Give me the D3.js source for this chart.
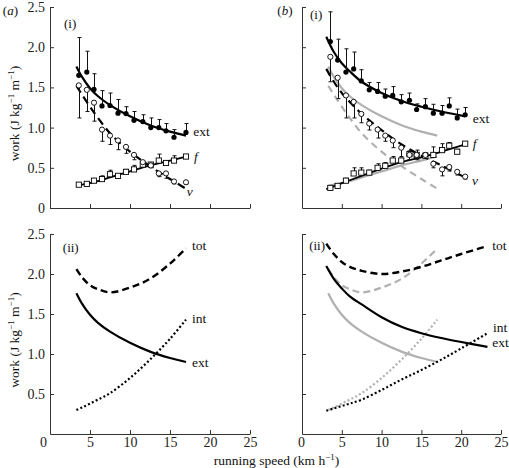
<!DOCTYPE html>
<html><head><meta charset="utf-8">
<script src="https://cdn.jsdelivr.net/npm/d3@7"></script>
<style>
html,body{margin:0;padding:0;background:#fff;}
svg, svg text{font-family:"Liberation Serif","Tinos","Times New Roman","DejaVu Serif",serif;}
</style></head><body>
<svg id="chart" width="509" height="468"></svg>
<script>
// ---------- tick labels ----------
const xTicks = [0, 5, 10, 15, 20, 25];
const yTicksTop = [0, 0.5, 1.0, 1.5, 2.0, 2.5];
const yTicksBot = [0.5, 1.0, 1.5, 2.0, 2.5];

// ---------- panel (a)(i): measured points ----------
const speedsA = [3.6, 4.6, 5.5, 6.5, 7.5, 8.5, 9.5, 10.5, 11.6, 12.6, 13.6, 14.5, 15.5, 17.0];
const extA    = [1.65, 1.69, 1.475, 1.27, 1.275, 1.18, 1.175, 1.09, 1.075, 1.0, 1.0, 0.96, 0.88, 0.94];
const extErrA = [0.47, 0.26, 0.195, 0.19, 0.155, 0.17, 0.085, 0.11, 0.085, 0.12, 0.10, 0.09, 0.095, 0.11];
const vA      = [1.525, 1.47, 1.31, 0.975, 0.90, 0.84, 0.76, 0.66, 0.57, 0.53, 0.43, 0.43, 0.33, 0.32];
const vErrA   = [0.405, 0.27, 0.23, 0.145, 0.11, 0.115, 0.08, 0.06, 0.05, 0.03, 0.04, 0.06, 0.03, 0.02];
const fA      = [0.29, 0.30, 0.34, 0.36, 0.42, 0.40, 0.45, 0.48, 0.54, 0.54, 0.59, 0.56, 0.59, 0.64];
const fErrA   = [0.02, 0.02, 0.02, 0.04, 0.05, 0.02, 0.03, 0.05, 0.03, 0.02, 0.08, 0.03, 0.06, 0.02];

// ---------- panel (a): fitted curves (read at these speeds) ----------
const fitSpeedsA = [3.3, 4, 5, 6, 7.5, 10, 12.5, 15, 17];
const extFitA = [1.76, 1.63, 1.49, 1.39, 1.28, 1.14, 1.03, 0.95, 0.90];
const vFitA   = [1.52, 1.41, 1.26, 1.12, 0.93, 0.70, 0.52, 0.36, 0.24];
const fFitA   = [0.275, 0.29, 0.31, 0.335, 0.38, 0.455, 0.53, 0.59, 0.64];
const totA    = [2.06, 1.96, 1.86, 1.81, 1.77, 1.83, 1.94, 2.13, 2.32];
const intA    = [0.30, 0.33, 0.38, 0.43, 0.51, 0.70, 0.93, 1.19, 1.43];

// ---------- panel (b)(i): measured points ----------
const speedsB = [3.56, 4.48, 5.52, 6.49, 7.45, 8.45, 9.5, 10.46, 11.4, 12.47, 13.5, 14.4, 15.5, 16.5, 17.6, 18.5, 19.5, 20.5];
const extB    = [2.07, 1.84, 1.69, 1.73, 1.58, 1.47, 1.45, 1.39, 1.40, 1.32, 1.34, 1.225, 1.26, 1.18, 1.18, 1.27, 1.12, 1.16];
const extErrB = [0.37, 0.26, 0.29, 0.21, 0.14, 0.09, 0.11, 0.09, 0.11, 0.09, 0.09, 0.07, 0.10, 0.11, 0.095, 0.10, 0.11, 0.09];
const vB      = [1.88, 1.62, 1.40, 1.32, 1.17, 1.05, 0.975, 0.90, 0.84, 0.75, 0.66, 0.66, 0.66, 0.55, 0.48, 0.51, 0.45, 0.39];
const vErrB   = [0.31, 0.26, 0.28, 0.20, 0.11, 0.08, 0.105, 0.07, 0.09, 0.11, 0.06, 0.06, 0.04, 0.05, 0.08, 0.05, 0.04, 0.03];
const fB      = [0.25, 0.275, 0.34, 0.43, 0.44, 0.44, 0.50, 0.525, 0.59, 0.59, 0.67, 0.66, 0.65, 0.66, 0.72, 0.775, 0.70, 0.80];
const fErrB   = [0.02, 0.02, 0.03, 0.07, 0.06, 0.03, 0.05, 0.04, 0.05, 0.03, 0.04, 0.06, 0.04, 0.10, 0.08, 0.04, 0.03, 0.02];

// ---------- panel (b)(i): fitted curves ----------
const fitSpeedsB = [3.05, 4, 5, 6, 7.5, 10, 12.5, 15, 17.5, 20.5];
const extFitB = [2.13, 1.94, 1.80, 1.70, 1.57, 1.43, 1.33, 1.26, 1.20, 1.14];
const vFitB   = [1.73, 1.57, 1.43, 1.32, 1.17, 0.97, 0.79, 0.65, 0.53, 0.38];
const fFitB   = [0.235, 0.27, 0.31, 0.345, 0.40, 0.49, 0.57, 0.63, 0.70, 0.79];

// ---------- panel (b)(ii) ----------
const speedsB2 = [3.05, 4, 5, 6, 7.5, 10, 12.5, 15, 17.5, 20, 23.3];
const totB  = [2.38, 2.25, 2.15, 2.09, 2.04, 2.00, 2.03, 2.09, 2.17, 2.25, 2.35];
const extB2 = [2.10, 1.94, 1.82, 1.72, 1.62, 1.46, 1.34, 1.26, 1.20, 1.15, 1.09];
const intB  = [0.29, 0.32, 0.35, 0.38, 0.43, 0.55, 0.68, 0.80, 0.93, 1.07, 1.26];

// ================= drawing =================
const FONT = "Liberation Serif, Tinos, Times New Roman, DejaVu Serif, serif";
const svg = d3.select("#chart").attr("font-family", FONT);
const GREY = "#b0b0b0";
const xA = d3.scaleLinear().domain([0, 25]).range([50, 250]);
const xB = d3.scaleLinear().domain([0, 25]).range([302, 501]);
const yTop = d3.scaleLinear().domain([0, 2.5]).range([208, 7]);
const yBot = d3.scaleLinear().domain([0, 2.5]).range([434, 234]);

const yfmt = d => d === 0 ? "0" : d3.format(".1f")(d);

function drawAxes(x, y, yTicks, showY, showX, zeroDx) {
  const gx = svg.append("g").attr("transform", `translate(0,${y(0)})`)
    .call(d3.axisBottom(x).tickValues(xTicks).tickSizeInner(-4).tickSizeOuter(0)
      .tickPadding(3).tickFormat(showX ? d => d : ""));
  const gy = svg.append("g").attr("transform", `translate(${x(0)},0)`)
    .call(d3.axisLeft(y).tickValues(yTicks).tickSizeInner(-4).tickSizeOuter(0)
      .tickPadding(5).tickFormat(showY ? yfmt : ""));
  [gx, gy].forEach(g => {
    g.attr("color", "#333").attr("font-family", FONT).attr("font-size", 14);
    g.selectAll("text").attr("font-family", FONT).attr("font-size", 14).attr("fill", "#222");
  });
  if (showX) gx.selectAll(".tick text").filter(d => d === 0).attr("dx", zeroDx);
}

function curve(x, y, sp, vals, stroke, width, dash) {
  const line = d3.line().x((d, i) => x(sp[i])).y(d => y(d)).curve(d3.curveCatmullRom.alpha(0.5));
  svg.append("path").attr("d", line(vals)).attr("fill", "none")
    .attr("stroke", stroke).attr("stroke-width", width)
    .attr("stroke-dasharray", dash || null);
}

function errBars(x, y, sp, vals, errs, dir) {
  const g = svg.append("g").attr("stroke", "#111").attr("stroke-width", 1);
  sp.forEach((s, i) => {
    const cx = Math.round(x(s)) + 0.5;
    const end = y(vals[i] + dir * errs[i]);
    g.append("line").attr("x1", cx).attr("x2", cx).attr("y1", y(vals[i])).attr("y2", end);
    g.append("line").attr("x1", cx - 2).attr("x2", cx + 2).attr("y1", end).attr("y2", end);
  });
}

function markers(x, y, sp, vals, type) {
  const g = svg.append("g");
  sp.forEach((s, i) => {
    if (type === "filled") {
      g.append("circle").attr("cx", x(s)).attr("cy", y(vals[i])).attr("r", 2.6).attr("fill", "#000");
    } else if (type === "open") {
      g.append("circle").attr("cx", x(s)).attr("cy", y(vals[i])).attr("r", 2.6)
        .attr("fill", "#fff").attr("stroke", "#000").attr("stroke-width", 0.9);
    } else {
      g.append("rect").attr("x", x(s) - 2.6).attr("y", y(vals[i]) - 2.6).attr("width", 5.2).attr("height", 5.2)
        .attr("fill", "#fff").attr("stroke", "#000").attr("stroke-width", 0.9);
    }
  });
}

function label(x, y, sx, sy, parts, size) {
  const t = svg.append("text").attr("x", x(sx)).attr("y", y(sy))
    .attr("font-family", FONT).attr("font-size", size || 13.5).attr("fill", "#111");
  parts.forEach(p => t.append("tspan").text(p[0]).attr("font-style", p[1] ? "italic" : null));
}

// axes
drawAxes(xA, yTop, yTicksTop, true, false, 0);
drawAxes(xB, yTop, yTicksBot, false, false, 0);
drawAxes(xA, yBot, yTicksBot, true, true, -7);
drawAxes(xB, yBot, yTicksBot, false, true, -1);

// ---- (a)(i)
curve(xA, yTop, fitSpeedsA, fFitA, "#000", 1.8);
curve(xA, yTop, fitSpeedsA, vFitA, "#000", 2.2, "8,5");
curve(xA, yTop, fitSpeedsA, extFitA, "#000", 2.2);
errBars(xA, yTop, speedsA, extA, extErrA, 1);
errBars(xA, yTop, speedsA, vA, vErrA, -1);
errBars(xA, yTop, speedsA, fA, fErrA, 1);
markers(xA, yTop, speedsA, fA, "square");
markers(xA, yTop, speedsA, vA, "open");
markers(xA, yTop, speedsA, extA, "filled");

// ---- (b)(i)
curve(xB, yTop, fitSpeedsA, extFitA, GREY, 2.2);
curve(xB, yTop, fitSpeedsA, vFitA, GREY, 2.2, "7,5");
curve(xB, yTop, fitSpeedsA, fFitA, GREY, 2.2);
curve(xB, yTop, fitSpeedsB, fFitB, "#000", 1.8);
curve(xB, yTop, fitSpeedsB, vFitB, "#000", 2.2, "8,5");
curve(xB, yTop, fitSpeedsB, extFitB, "#000", 2.2);
errBars(xB, yTop, speedsB, extB, extErrB, 1);
errBars(xB, yTop, speedsB, vB, vErrB, -1);
errBars(xB, yTop, speedsB, fB, fErrB, 1);
markers(xB, yTop, speedsB, fB, "square");
markers(xB, yTop, speedsB, vB, "open");
markers(xB, yTop, speedsB, extB, "filled");

// ---- (a)(ii)
curve(xA, yBot, fitSpeedsA, totA, "#000", 2.4, "7,4");
curve(xA, yBot, fitSpeedsA, extFitA, "#000", 2.2);
curve(xA, yBot, fitSpeedsA, intA, "#000", 2.2, "2,2.3");

// ---- (b)(ii)
curve(xB, yBot, fitSpeedsA, totA, GREY, 2.2, "7,4");
curve(xB, yBot, fitSpeedsA, extFitA, GREY, 2.2);
curve(xB, yBot, fitSpeedsA, intA, GREY, 2.2, "2,2.3");
curve(xB, yBot, speedsB2, totB, "#000", 2.4, "7,4");
curve(xB, yBot, speedsB2, extB2, "#000", 2.2);
curve(xB, yBot, speedsB2, intB, "#000", 2.2, "2,2.3");

// ---- curve labels
label(xA, yTop, 17.9, 0.90, [["ext"]]);
label(xA, yTop, 18.0, 0.585, [["f", true]]);
label(xA, yTop, 17.1, 0.15, [["v", true]]);
label(xB, yTop, 21.45, 1.063, [["ext"]]);
label(xB, yTop, 21.45, 0.746, [["f", true]]);
label(xB, yTop, 21.35, 0.286, [["v", true]]);
label(xA, yBot, 17.75, 2.30, [["tot"]]);
label(xA, yBot, 17.75, 1.39, [["int"]]);
label(xA, yBot, 17.75, 0.84, [["ext"]]);
label(xB, yBot, 23.9, 2.30, [["tot"]]);
label(xB, yBot, 24.0, 1.27, [["int"]]);
label(xB, yBot, 23.9, 1.09, [["ext"]]);

// panel tags
label(xA, yTop, 1.75, 2.24, [["(i)"]], 13);
label(xB, yTop, 1.0, 2.35, [["(i)"]], 13);
label(xA, yBot, 1.6, 2.28, [["(ii)"]], 13);
label(xB, yBot, 0.9, 2.30, [["(ii)"]], 13);
label(xA, yTop, -5.9, 2.4, [["("], ["a", true], [")"]], 13);
label(xB, yTop, -3.1, 2.4, [["("], ["b", true], [")"]], 13);

// axis titles
function ylabel(cy) {
  const t = svg.append("text").attr("transform", `translate(19,${cy}) rotate(-90)`)
    .attr("text-anchor", "middle").attr("font-family", FONT).attr("font-size", 13.5).attr("fill", "#111");
  t.append("tspan").text("work (J kg");
  t.append("tspan").text("\u22121").attr("font-size", 9).attr("dy", -5);
  t.append("tspan").text(" m").attr("dy", 5);
  t.append("tspan").text("\u22121").attr("font-size", 9).attr("dy", -5);
  t.append("tspan").text(")").attr("dy", 5);
}
ylabel((yTop(0) + yTop(2.5)) / 2 + 6);
ylabel((yBot(0) + yBot(2.5)) / 2 + 6);

const xt = svg.append("text").attr("x", (xA(0) + xB(25)) / 2 + 1).attr("y", 465)
  .attr("text-anchor", "middle").attr("font-family", FONT).attr("font-size", 13.5).attr("fill", "#111");
xt.append("tspan").text("running speed (km h");
xt.append("tspan").text("\u22121").attr("font-size", 9).attr("dy", -5);
xt.append("tspan").text(")").attr("dy", 5);
</script>
</body></html>
